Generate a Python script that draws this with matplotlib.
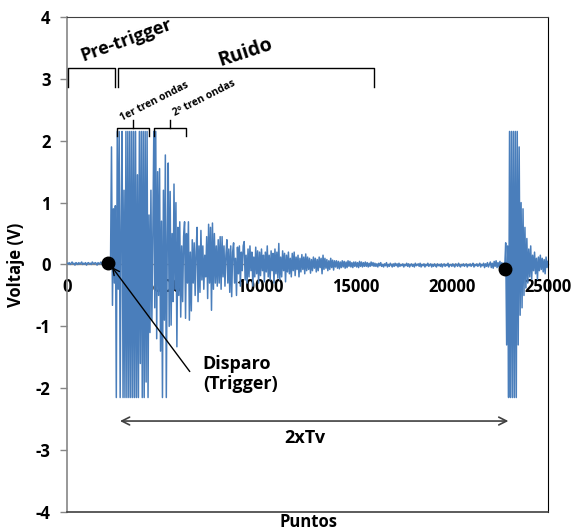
import numpy as np
import matplotlib.pyplot as plt
from matplotlib import font_manager

# Pick a sans family that ships a bold face
_bold_fams = {f.name for f in font_manager.fontManager.ttflist
              if f.weight in (600, 700, 'bold', 'semibold')}
_family = next((f for f in ['Noto Sans', 'Open Sans', 'Lato', 'Liberation Sans']
                if f in _bold_fams), 'DejaVu Sans')
plt.rcParams['font.family'] = [_family, 'DejaVu Sans']
plt.rcParams['axes.unicode_minus'] = False

# Sample spacing (points) of the recorded signal
STEP = 50

# Recorded voltage, split by stretches of the record (start point, values)
pre_trigger = [
    0.02, 0.01, 0.03, 0.00, 0.02, 0.04, 0.01, 0.02, -0.01, 0.03,
    0.02, 0.00, 0.03, 0.01, 0.02, 0.04, 0.00, 0.02, 0.01, 0.03,
    -0.01, 0.02, 0.03, 0.01, 0.02, 0.00, 0.04, 0.02, 0.01, 0.03,
    0.02, -0.01, 0.03, 0.01, 0.02, 0.04, 0.00, 0.02, 0.03, 0.01,
    0.02, 0.00, 0.03, 0.02, 0.03,
]
first_train = [
    0.05, 1.90, -0.66, 0.90, -0.30, 0.95, -2.15, 2.15, -0.40, 2.15,
    -2.15, 0.60, 2.15, -2.15, 1.20, -2.15, 2.15, -2.15, 2.15, -2.15,
    2.15, -2.15, 2.15, -2.15, 2.15, -2.15, 2.15, -2.15, 1.45, -2.15,
    2.15, -1.60, 2.15, -2.15, 2.15, -2.15, 2.15, -1.90, 2.15, -2.15,
    0.80, -1.10, 1.20, -0.90, 0.50, 2.15, -0.70, 2.15, -1.20, 1.50,
    -0.50, 1.55, -1.40, 0.70, -2.15, 1.20,
]
second_train = [
    -0.90, 1.77, -2.15, 0.40, 1.64, -1.00, 1.18, -0.98, 0.50, -0.60,
    1.30, -0.40, 1.00, -1.33, 0.60, -0.50, 0.69, -0.85, 0.30, -0.60,
    0.45, 0.69, -0.87, 0.50, -0.30, 0.69, -0.90, 0.20, -0.75, 0.40,
    -0.30, 0.35, -0.50, 0.20, 0.60, -0.60, 0.30, -0.45, 0.55, -0.25,
    0.30, -0.40, 0.15, -0.20, 0.45, -0.55, 0.65, -0.30, 0.60, -0.74,
    0.67, -0.40, 0.50, -0.30, 0.30, -0.35, 0.40, -0.30, 0.45,
]
noise_tail = [
    -0.40, 0.45, -0.20, 0.30, -0.35, 0.15, 0.40, -0.30, 0.25, -0.45,
    0.30, -0.52, 0.20, 0.35, -0.30, 0.10, -0.50, 0.28, -0.15, 0.30,
    -0.35, 0.20, -0.10, 0.30, 0.37, -0.25, 0.15, -0.30, 0.25, -0.20,
    0.30, -0.10, 0.20, -0.35, 0.12, -0.20, 0.28, -0.15, 0.22, -0.30,
    0.20, -0.18, 0.25, -0.10, 0.15, -0.28, 0.20, -0.12, 0.30, -0.20,
    0.15, -0.25, 0.22, -0.10, 0.18, -0.30, 0.25, -0.15, 0.20, -0.22,
    0.34, -0.25, 0.12, -0.20, 0.22, -0.10, 0.18, -0.28, 0.15, -0.12,
    0.20, -0.15, 0.10, -0.20, 0.18, -0.10, 0.20, -0.18, 0.12, -0.08,
    0.15, -0.20, 0.10, -0.12, 0.16, -0.08, 0.12, -0.15, 0.17, -0.10,
    0.12, -0.08, 0.10, -0.14, 0.08, -0.10, 0.12, -0.06, 0.10, -0.12,
    0.08, -0.10, 0.12, -0.05, 0.10, -0.15, 0.15, -0.08, 0.10, -0.06,
    0.08, -0.10, 0.06, -0.08, 0.10, -0.05, 0.07, -0.09, 0.06, -0.04,
    0.06, -0.06, 0.05, -0.07, 0.04, -0.05, 0.06, -0.04, 0.05, -0.06,
    0.04, -0.05, 0.06, -0.03, 0.05, -0.04, 0.03, -0.05, 0.04, -0.03,
    0.04, -0.04, 0.03, -0.05, 0.05, -0.03, 0.04, -0.04, 0.03, -0.03,
    0.04, -0.03, 0.03, -0.04, 0.02, -0.03, 0.04, -0.02, 0.03, -0.03,
]
quiet = [
    0.02, -0.03, 0.01, -0.04, 0.02, -0.02, 0.03, -0.03, 0.00, -0.04,
    0.01, -0.02, 0.03, -0.04, 0.00, -0.03, 0.02, -0.01, -0.04, 0.01,
    -0.03, 0.02, -0.02, 0.01, -0.04, 0.02, -0.03, 0.00, -0.02, 0.01,
    -0.04, 0.00, -0.02, 0.02, -0.03, 0.01, -0.04, -0.01, 0.01, -0.03,
    0.00, -0.04, 0.02, -0.02, -0.01, 0.01, -0.03, 0.02, -0.04, 0.00,
    -0.02, 0.01, -0.04, 0.00, -0.02, 0.02, -0.03, -0.01, 0.01, -0.04,
    0.00, -0.03, 0.01, -0.02, -0.04, 0.01, -0.02, 0.00, -0.03, 0.01,
    -0.04, -0.01, 0.01, -0.03, 0.00, -0.02, 0.02, -0.04, -0.01, 0.00,
    -0.03, 0.01, -0.02, -0.04, 0.01, -0.01, -0.03, 0.02, -0.02, -0.04,
    0.00, -0.02, 0.01, -0.03, -0.01, 0.01, -0.04, 0.00, -0.02, 0.01,
    -0.03, -0.01, 0.02, -0.04, 0.00, -0.02, 0.01, -0.03, -0.01, 0.02,
    -0.04, 0.00, -0.02, 0.02, -0.05, 0.01, -0.03, 0.03, -0.04, 0.00,
    0.04, -0.05, 0.02, -0.06, 0.05, -0.03, 0.06, -0.05, 0.03, -0.04,
    0.05, -0.06, 0.03, -0.05, 0.02,
]
echo = [
    -0.05, 0.35, -1.30, 0.30, -2.15, 2.15, -2.15, 2.15, -2.15, 2.15,
    -2.15, 2.15, -2.15, 2.15, -1.30, 1.90, -0.82, 1.00, -0.70, 0.90,
    -0.50, 0.60, -0.38, 0.42, -0.30, 0.25, -0.20, 0.30, -0.24, 0.15,
    -0.10, 0.20, -0.15, 0.10, -0.24, 0.12, -0.10, 0.15, -0.08, 0.10,
    -0.12, 0.08, -0.15, 0.12, -0.05, 0.05,
]
segment_starts = [0, 2250, 5050, 8000, 16000, 22750]
segment_values = [pre_trigger, first_train, second_train, noise_tail, quiet, echo]

# Trigger instants marked on the trace
trigger_x = [2100, 22760]
trigger_y = [0.03, -0.07]

x_ticks = [0, 5000, 10000, 15000, 20000, 25000]
y_ticks = [-4, -3, -2, -1, 0, 1, 2, 3, 4]

points = np.concatenate([s + STEP * np.arange(len(v))
                         for s, v in zip(segment_starts, segment_values)])
volts = np.concatenate([np.asarray(v, dtype=float) for v in segment_values])

fig = plt.figure(figsize=(5.76, 5.31), dpi=100)
ax = fig.add_axes([0.1168, 0.0358, 0.8346, 0.9322])

ax.plot(points, volts, color='#4A7EBB', lw=1.1, zorder=3)
ax.plot(trigger_x, trigger_y, 'o', color='black', ms=9, zorder=5)

ax.set_xlim(0, 25000)
ax.set_ylim(-4, 4)
ax.set_xticks(x_ticks)
ax.set_yticks(y_ticks)

grey = '#868686'
ax.spines['left'].set_color(grey)
ax.spines['left'].set_linewidth(1.2)
ax.spines['bottom'].set_position(('data', 0))
ax.spines['bottom'].set_color(grey)
ax.spines['bottom'].set_linewidth(1.0)
ax.spines['bottom'].set_zorder(2)
ax.spines['top'].set_color('#404040')
ax.spines['top'].set_linewidth(0.8)
ax.spines['right'].set_color('black')
ax.spines['right'].set_linewidth(0.8)
ax.plot([0, 1], [0, 0], transform=ax.transAxes, color='#404040', lw=1.2,
        clip_on=False, zorder=6)

ax.tick_params(axis='y', direction='out', length=5, width=1, color=grey,
               labelsize=12, pad=7)
ax.tick_params(axis='x', length=0, labelsize=12, pad=10)
for lab in ax.get_xticklabels() + ax.get_yticklabels():
    lab.set_fontweight('bold')

ax.set_ylabel('Voltaje (V)', fontsize=12, fontweight='bold', labelpad=8)
fig.text(0.535, 0.0, 'Puntos', ha='center', va='bottom', fontsize=12,
         fontweight='bold')


def bracket(x0, x1, y_top, y_end, mid=None, mid_top=None, lw=1.0):
    ax.plot([x0, x0, x1, x1], [y_end, y_top, y_top, y_end], color='black',
            lw=lw, clip_on=False, zorder=6, solid_joinstyle='round')
    if mid is not None:
        ax.plot([mid, mid], [y_top, mid_top], color='black', lw=lw,
                clip_on=False, zorder=6)


# Pre-trigger and noise windows
bracket(40, 2470, 3.17, 2.87)
bracket(2640, 15950, 3.17, 2.87)
ax.text(3050, 3.62, 'Pre-trigger', rotation=20, ha='center', va='center',
        fontsize=13, fontweight='bold', rotation_mode='anchor')
ax.text(9250, 3.43, 'Ruido', rotation=18, ha='center', va='center',
        fontsize=14, fontweight='bold', rotation_mode='anchor')

# Wave trains
bracket(2580, 4250, 2.21, 2.07, mid=3420, mid_top=2.34)
bracket(4500, 6160, 2.21, 2.07, mid=5330, mid_top=2.34)
ax.text(4550, 2.63, '1er tren ondas', rotation=27, ha='center', va='center',
        fontsize=7.5, fontweight='bold', rotation_mode='anchor')
ax.text(7120, 2.68, '2º tren ondas', rotation=27, ha='center', va='center',
        fontsize=7.5, fontweight='bold', rotation_mode='anchor')

# Trigger callout
ax.annotate('', xy=(2320, -0.04), xytext=(6370, -1.73),
            arrowprops=dict(arrowstyle='->', color='black', lw=1.0,
                            shrinkA=0, shrinkB=0, mutation_scale=12),
            zorder=6)
ax.text(7050, -1.77, 'Disparo\n(Trigger)', ha='left', va='center',
        fontsize=13, fontweight='bold', linespacing=1.15)

# Two-way travel time
ax.annotate('', xy=(2740, -2.53), xytext=(22940, -2.53),
            arrowprops=dict(arrowstyle='<->', color='#404040', lw=1.2,
                            shrinkA=0, shrinkB=0, mutation_scale=14))
ax.text(12350, -2.81, '2xTv', ha='center', va='center', fontsize=13,
        fontweight='bold')

fig.savefig('out.png', dpi=100)
